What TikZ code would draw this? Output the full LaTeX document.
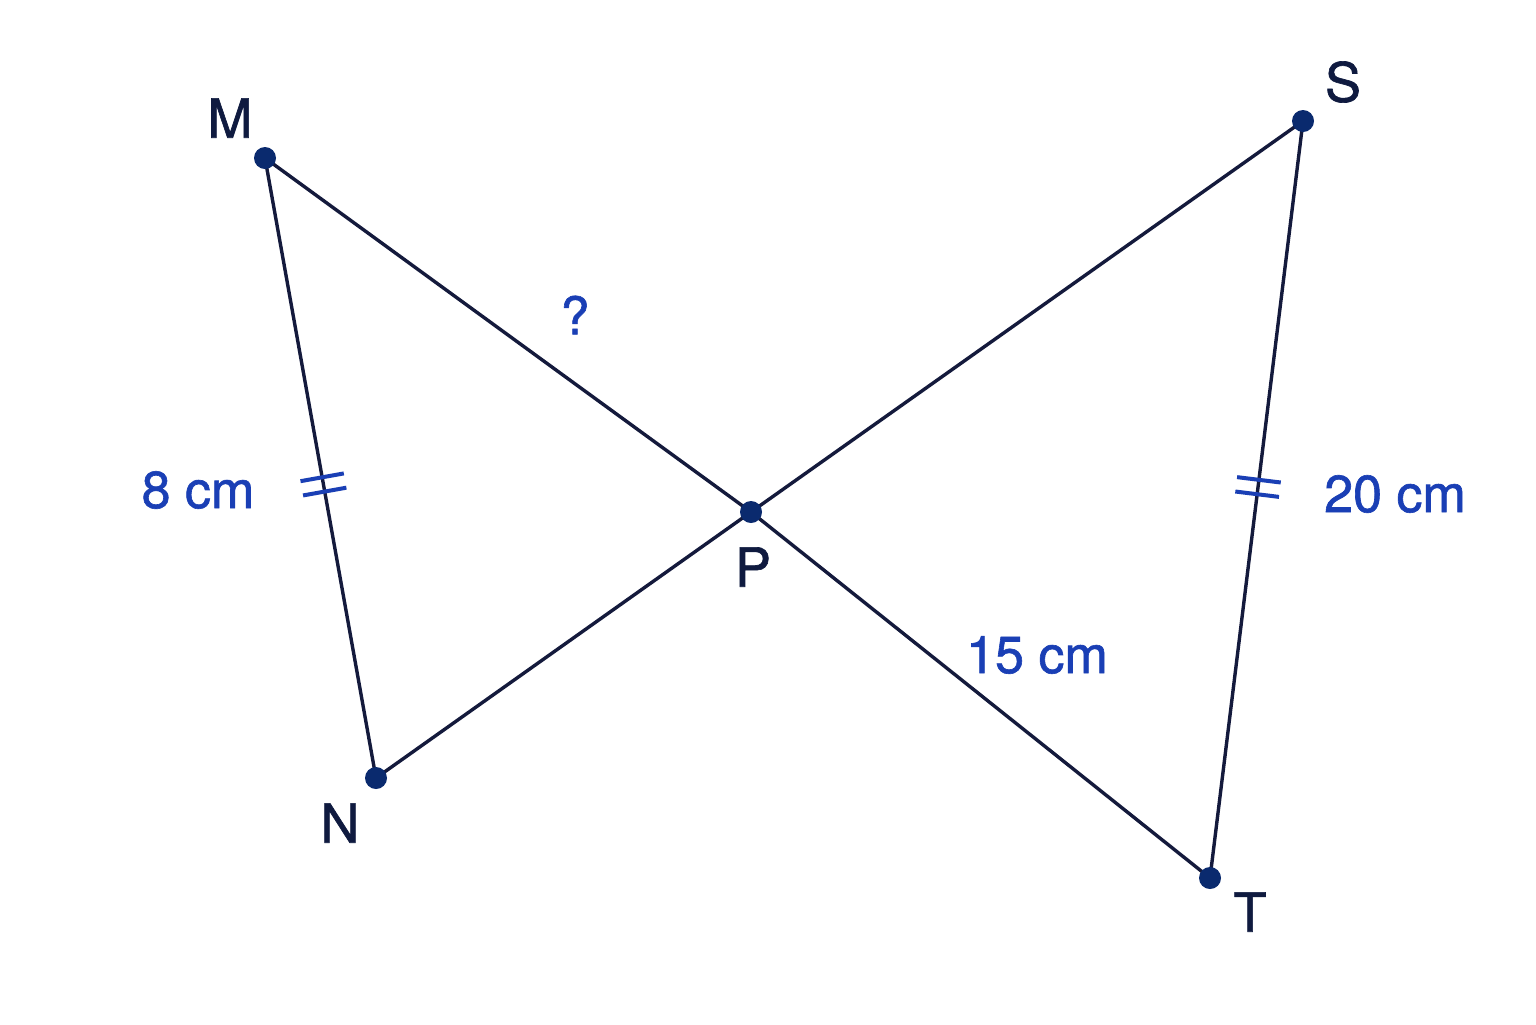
\documentclass[tikz,border=0pt]{standalone}
\usepackage{fontspec}
\setmainfont{TeX Gyre Heros}[FakeBold=1.2]
\usetikzlibrary{calc}
\definecolor{linec}{HTML}{141A3C}
\definecolor{dotc}{HTML}{0A2A6E}
\definecolor{labc}{HTML}{1A3FB5}
\definecolor{ptc}{HTML}{0F1A3F}
\tikzset{
  seg/.style={draw=linec, line width=1.7pt},
  tick/.style={draw=labc, line width=2pt},
  ptdot/.style={circle, fill=dotc, inner sep=0pt, minimum size=11pt},
  ptlab/.style={text=ptc, font=\fontsize{27}{30}\selectfont, inner sep=0pt},
  measlab/.style={text=labc, font=\fontsize{26}{30}\selectfont, inner sep=0pt}
}
\begin{document}
\begin{tikzpicture}[x=0.5pt,y=-0.5pt]
\useasboundingbox (0,0) rectangle (1536,1024);
\fill[white] (0,0) rectangle (1536,1024);
\coordinate (M) at (265,158);
\coordinate (S) at (1303,121);
\coordinate (P) at (751,512);
\coordinate (N) at (376,778);
\coordinate (T) at (1210,878);
\draw[seg] (M) -- (N);
\draw[seg] (M) -- (P) -- (T);
\draw[seg] (N) -- (P) -- (S);
\draw[seg] (S) -- (T);
% ticks
\coordinate (t1) at ($(M)!0.515!(N)$);
\coordinate (t2) at ($(M)!0.538!(N)$);
\coordinate (t3) at ($(S)!0.474!(T)$);
\coordinate (t4) at ($(S)!0.493!(T)$);
\draw[tick] ($(t1)!11pt!90:(N)$) -- ($(t1)!11pt!-90:(N)$);
\draw[tick] ($(t2)!11pt!90:(N)$) -- ($(t2)!11pt!-90:(N)$);
\draw[tick] ($(t3)!11pt!90:(T)$) -- ($(t3)!11pt!-90:(T)$);
\draw[tick] ($(t4)!11pt!90:(T)$) -- ($(t4)!11pt!-90:(T)$);
% dots
\node[ptdot] (dM) at (M) {};
\node[ptdot] (dS) at (S) {};
\node[ptdot] (dP) at (P) {};
\node[ptdot] (dN) at (N) {};
\node[ptdot] (dT) at (T) {};
% point labels
\node[ptlab] (lM) at (230,118) {M};
\node[ptlab] (lS) at (1343,82) {S};
\node[ptlab] (lP) at (753,567) {P};
\node[ptlab] (lN) at (340,823) {N};
\node[ptlab] (lT) at (1250,912) {T};
% measures
\node[measlab] (m8) at (198,490) {8 cm};
\node[measlab] (m20) at (1395,494) {20 cm};
\node[measlab] (m15) at (1037,655) {15 cm};
\node[measlab] (mq) at (575,315) {?};
\end{tikzpicture}
\end{document}
